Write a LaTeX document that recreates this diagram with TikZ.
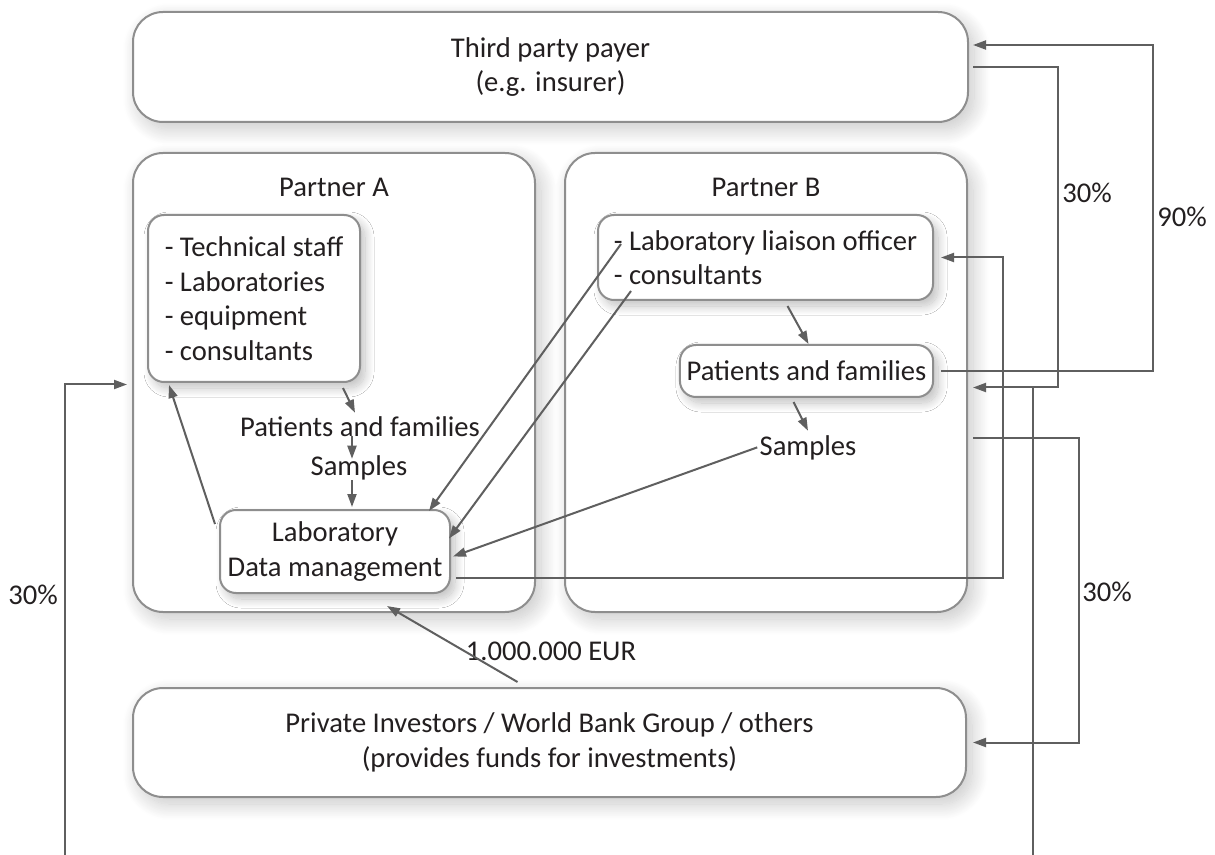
\documentclass[tikz,border=0pt]{standalone}
\usepackage{fontspec}
\setmainfont{Carlito}
\usetikzlibrary{arrows.meta,calc,shadows.blur}

\definecolor{flowgray}{HTML}{5F5F5F}
\definecolor{edgegray}{HTML}{8E8E8E}
\definecolor{inkgray}{HTML}{231F20}

\tikzset{
  bigbox/.style={draw=edgegray, line width=1pt, fill=white, rounded corners=15pt, text=inkgray,
    blur shadow={shadow xshift=3pt, shadow yshift=-3.5pt, shadow blur radius=8pt,
      shadow blur steps=20, shadow opacity=22}},
  smallbox/.style={draw=edgegray, line width=1pt, fill=white, rounded corners=8pt, text=inkgray,
    blur shadow={shadow xshift=2.5pt, shadow yshift=-3pt, shadow blur radius=4.5pt,
      shadow blur steps=15, shadow opacity=25}},
  flow/.style={draw=flowgray, line width=1pt},
  txt/.style={inner sep=0pt, text=inkgray},
}

\begin{document}
\begin{tikzpicture}[x=0.5pt, y=-0.5pt, >={Triangle[length=6.5pt,width=4.5pt]},
    font=\fontsize{14.3}{17.25}\selectfont]
  \useasboundingbox (0,0) rectangle (1215,855);
  % boxes
  \node[bigbox, minimum width=417.5pt, minimum height=55pt, align=center] (payer) at (550.5,67)
    {Third party payer\\(e.g. insurer)};
  \node[bigbox, minimum width=201pt, minimum height=229.5pt] (pa) at (334,382.5) {};
  \node[bigbox, minimum width=201pt, minimum height=229.5pt] (pb) at (766,382.5) {};
  \node[txt] (pa-title) at (334,187) {Partner A};
  \node[txt] (pb-title) at (766,187) {Partner B};
  \node[bigbox, minimum width=416.5pt, minimum height=54.5pt, align=center] (inv) at (549.5,742.5)
    {Private Investors / World Bank Group / others\\(provides funds for investments)};

  % partner A
  \node[smallbox, minimum width=106pt, minimum height=83.5pt, align=left] (staff) at (254,298.5)
    {- Technical staff\\- Laboratories\\- equipment\\- consultants};
  \node[txt, anchor=base] (pfa) at (360,437) {Patients and families};
  \node[txt, anchor=base] (sa) at (359,475) {Samples};
  \node[smallbox, minimum width=115pt, minimum height=41.5pt, align=center] (lab) at (335,551.5)
    {Laboratory\\Data management};

  % partner B
  \node[smallbox, minimum width=167.5pt, minimum height=42.5pt, align=left] (liaison) at (765.5,257.5)
    {- Laboratory liaison officer\\- consultants};
  \node[smallbox, minimum width=126.5pt, minimum height=26pt] (pfb) at (806.5,371) {Patients and families};
  \node[txt, anchor=base] (sb) at (808,455) {Samples};

  % shares
  \node[txt] (share-tp) at (1087,193) {30\%};
  \node[txt] (share-ret) at (1182,217) {90\%};
  \node[txt] (share-inv) at (1107,592) {30\%};
  \node[txt] (share-a) at (33,595) {30\%};
  \node[txt, anchor=base] (eur) at (551,660) {1.000.000 EUR};

  % flows inside A
  \draw[flow,->] ([xshift=-2pt,yshift=-7.5pt]lab.north west) -- ([xshift=11pt,yshift=-1pt]staff.south west);
  \draw[flow,->] ([xshift=44.5pt,yshift=-2.5pt]staff.south) -- ([xshift=-2.5pt,yshift=2pt]pfa.north);
  \draw[flow,->] ([xshift=-4pt,yshift=1pt]pfa.south) -- ([xshift=-3.5pt,yshift=-2pt]sa.north);
  \draw[flow,->] ([xshift=-3.5pt]sa.south) -- ([xshift=8.5pt,yshift=1pt]lab.north);

  % flows inside B
  \draw[flow,->] ([xshift=11pt,yshift=-2.5pt]liaison.south) -- ([xshift=1pt]pfb.north);
  \draw[flow,->] ([xshift=-6.5pt,yshift=-2pt]pfb.south) -- ([yshift=2pt]sb.north);

  % from B to the laboratory
  \draw[flow,->] ([xshift=12pt,yshift=-15pt]liaison.north west) -- ([xshift=-11pt,yshift=-1pt]lab.north east);
  \draw[flow,->] ([xshift=17pt,yshift=5pt]liaison.south west) -- ([xshift=-1pt,yshift=6.5pt]lab.east);
  \draw[flow,->] ([xshift=-1pt]sb.west) -- ([xshift=1pt,yshift=-2.5pt]lab.east);
  \draw[flow,->] ([xshift=2.5pt,yshift=-13pt]lab.east) -| ([xshift=34.5pt]liaison.east)
    -- ([xshift=3.5pt]liaison.east);

  % money
  \draw[flow,->] ([xshift=-16pt,yshift=2.5pt]inv.north) -- ([xshift=26.5pt,yshift=3.5pt]pa.south);
  \draw[flow,->] ([xshift=2pt]payer.east) -| ([xshift=45pt,yshift=-2.5pt]pb.east)
    -- ([xshift=2.5pt,yshift=-2.5pt]pb.east);
  \draw[flow,->] ([xshift=3.5pt]pfb.east) -| ([xshift=92pt,yshift=11pt]payer.east)
    -- ([xshift=2pt,yshift=11pt]payer.east);
  \draw[flow,->] ([xshift=2.5pt,yshift=-28pt]pb.east) -| ([xshift=56pt]inv.east)
    -- ([xshift=3pt]inv.east);

  % round the bottom to A
  \coordinate (split) at (1033,387.5);
  \coordinate (out-r) at (1033,855);
  \coordinate (out-l) at (65,855);
  \draw[flow] (split) -- (out-r);
  \draw[flow,->] (out-l) |- ([xshift=-2.5pt,yshift=-1pt]pa.west);
\end{tikzpicture}
\end{document}
